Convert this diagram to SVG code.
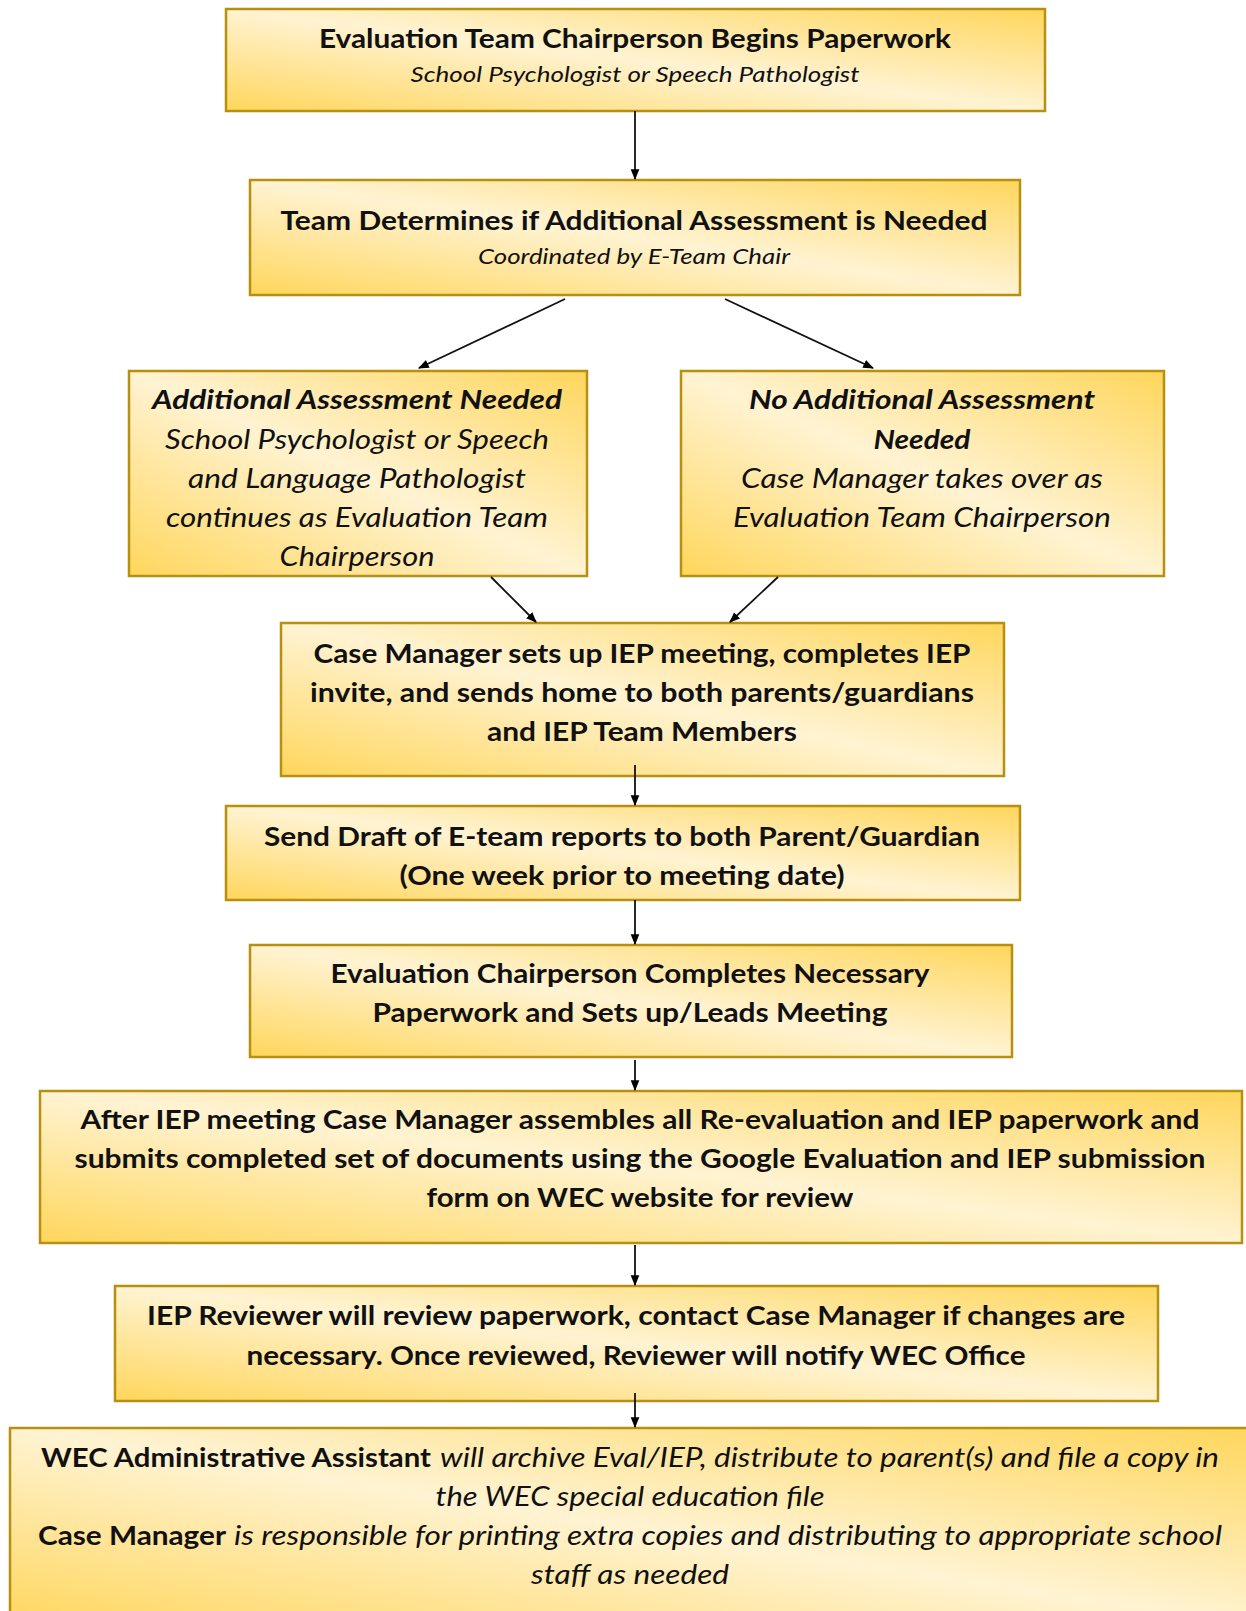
<svg xmlns="http://www.w3.org/2000/svg" width="1246" height="1611" viewBox="0 0 1246 1611">
<defs>
<linearGradient id="g" x1="0" y1="1" x2="1" y2="0">
<stop offset="0" stop-color="#FFD65C"/>
<stop offset="0.5" stop-color="#FFF3D2"/>
<stop offset="1" stop-color="#FFD65C"/>
</linearGradient>
<marker id="ah" viewBox="0 0 10 10" refX="9" refY="5" markerWidth="6" markerHeight="6" orient="auto" markerUnits="strokeWidth">
<path d="M0,1 L10,5 L0,9 z" fill="#000"/>
</marker>
<style>
.box{fill:url(#g);stroke:#B8900F;stroke-width:2.5}
.t{font-family:Lato,"Open Sans","Liberation Sans",sans-serif;font-size:27px;fill:#111;text-anchor:middle}
.b{font-weight:bold}
.i{font-style:italic}
.s{font-size:22px}
.c line{stroke:#111;stroke-width:1.8;marker-end:url(#ah)}
</style>
</defs>
<rect width="1246" height="1611" fill="#fff"/>
<g id="n1">
<rect class="box" x="226" y="9" width="819" height="102"/>
<text class="t b" x="635" y="48" textLength="632" lengthAdjust="spacingAndGlyphs">Evaluation Team Chairperson Begins Paperwork</text>
<text class="t i s" x="635" y="82" textLength="449" lengthAdjust="spacingAndGlyphs">School Psychologist or Speech Pathologist</text>
</g>
<g id="n2">
<rect class="box" x="250" y="180" width="770" height="115"/>
<text class="t b" x="634" y="230" textLength="707" lengthAdjust="spacingAndGlyphs">Team Determines if Additional Assessment is Needed</text>
<text class="t i s" x="634" y="264" textLength="312" lengthAdjust="spacingAndGlyphs">Coordinated by E-Team Chair</text>
</g>
<g id="n3">
<rect class="box" x="129" y="371" width="458" height="205"/>
<text class="t b i" x="357" y="409" textLength="410" lengthAdjust="spacingAndGlyphs">Additional Assessment Needed</text>
<text class="t i" x="357" y="449" textLength="384" lengthAdjust="spacingAndGlyphs">School Psychologist or Speech</text>
<text class="t i" x="357" y="488" textLength="338" lengthAdjust="spacingAndGlyphs">and Language Pathologist</text>
<text class="t i" x="357" y="527" textLength="382" lengthAdjust="spacingAndGlyphs">continues as Evaluation Team</text>
<text class="t i" x="357" y="566" textLength="155" lengthAdjust="spacingAndGlyphs">Chairperson</text>
</g>
<g id="n4">
<rect class="box" x="681" y="371" width="483" height="205"/>
<text class="t b i" x="922" y="409" textLength="346" lengthAdjust="spacingAndGlyphs">No Additional Assessment</text>
<text class="t b i" x="922" y="449" textLength="97" lengthAdjust="spacingAndGlyphs">Needed</text>
<text class="t i" x="922" y="488" textLength="362" lengthAdjust="spacingAndGlyphs">Case Manager takes over as</text>
<text class="t i" x="922" y="527" textLength="378" lengthAdjust="spacingAndGlyphs">Evaluation Team Chairperson</text>
</g>
<g id="n5">
<rect class="box" x="281" y="623" width="723" height="153"/>
<text class="t b" x="642" y="663" textLength="657" lengthAdjust="spacingAndGlyphs">Case Manager sets up IEP meeting, completes IEP</text>
<text class="t b" x="642" y="702" textLength="664" lengthAdjust="spacingAndGlyphs">invite, and sends home to both parents/guardians</text>
<text class="t b" x="642" y="741" textLength="310" lengthAdjust="spacingAndGlyphs">and IEP Team Members</text>
</g>
<g id="n6">
<rect class="box" x="226" y="806" width="794" height="94"/>
<text class="t b" x="622" y="846" textLength="716" lengthAdjust="spacingAndGlyphs">Send Draft of E-team reports to both Parent/Guardian</text>
<text class="t b" x="622" y="885" textLength="445" lengthAdjust="spacingAndGlyphs">(One week prior to meeting date)</text>
</g>
<g id="n7">
<rect class="box" x="250" y="945" width="762" height="112"/>
<text class="t b" x="630" y="983" textLength="599" lengthAdjust="spacingAndGlyphs">Evaluation Chairperson Completes Necessary</text>
<text class="t b" x="630" y="1022" textLength="515" lengthAdjust="spacingAndGlyphs">Paperwork and Sets up/Leads Meeting</text>
</g>
<g id="n8">
<rect class="box" x="40" y="1091" width="1202" height="152"/>
<text class="t b" x="640" y="1129" textLength="1119" lengthAdjust="spacingAndGlyphs">After IEP meeting Case Manager assembles all Re-evaluation and IEP paperwork and</text>
<text class="t b" x="640" y="1168" textLength="1131" lengthAdjust="spacingAndGlyphs">submits completed set of documents using the Google Evaluation and IEP submission</text>
<text class="t b" x="640" y="1207" textLength="427" lengthAdjust="spacingAndGlyphs">form on WEC website for review</text>
</g>
<g id="n9">
<rect class="box" x="115" y="1286" width="1043" height="115"/>
<text class="t b" x="636" y="1325" textLength="978" lengthAdjust="spacingAndGlyphs">IEP Reviewer will review paperwork, contact Case Manager if changes are</text>
<text class="t b" x="636" y="1365" textLength="779" lengthAdjust="spacingAndGlyphs">necessary. Once reviewed, Reviewer will notify WEC Office</text>
</g>
<g id="n10">
<rect class="box" x="10" y="1428" width="1250" height="200"/>
<text class="t" style="text-anchor:start" y="1467"><tspan class="b" x="41" textLength="390" lengthAdjust="spacingAndGlyphs">WEC Administrative Assistant</tspan><tspan class="i" x="440" textLength="779" lengthAdjust="spacingAndGlyphs">will archive Eval/IEP, distribute to parent(s) and file a copy in</tspan></text>
<text class="t i" x="630" y="1506" textLength="389" lengthAdjust="spacingAndGlyphs">the WEC special education file</text>
<text class="t" style="text-anchor:start" y="1545"><tspan class="b" x="38" textLength="188" lengthAdjust="spacingAndGlyphs">Case Manager</tspan><tspan class="i" x="234" textLength="988" lengthAdjust="spacingAndGlyphs">is responsible for printing extra copies and distributing to appropriate school</tspan></text>
<text class="t i" x="630" y="1584" textLength="198" lengthAdjust="spacingAndGlyphs">staff as needed</text>
</g>
<g id="connectors" class="c">
<line x1="635" y1="111" x2="635" y2="179"/>
<line x1="565" y1="299" x2="419" y2="368"/>
<line x1="725" y1="299" x2="873" y2="368"/>
<line x1="491" y1="577" x2="536" y2="622"/>
<line x1="778" y1="577" x2="730" y2="622"/>
<line x1="635" y1="765" x2="635" y2="805"/>
<line x1="635" y1="900" x2="635" y2="944"/>
<line x1="635" y1="1060" x2="635" y2="1090"/>
<line x1="635" y1="1245" x2="635" y2="1285"/>
<line x1="635" y1="1393" x2="635" y2="1427"/>
</g>
</svg>
